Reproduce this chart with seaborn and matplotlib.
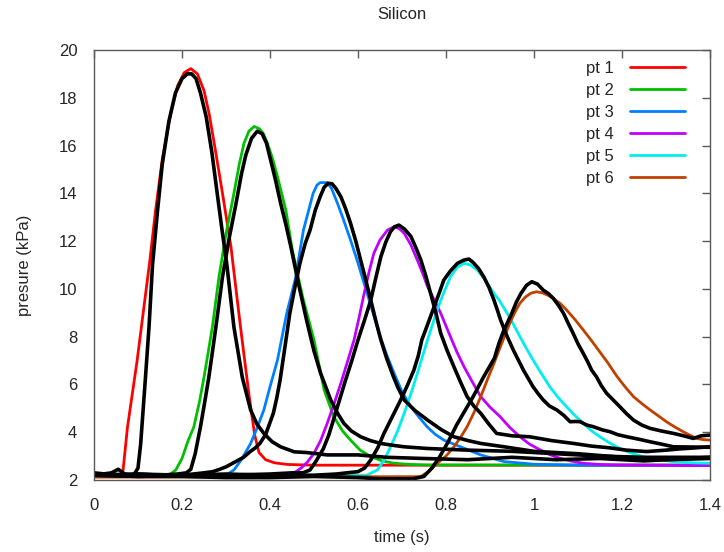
import matplotlib
matplotlib.use("Agg")
import matplotlib.pyplot as plt
import seaborn as sns

# ---------------- data ----------------
labels = ["pt 1", "pt 2", "pt 3", "pt 4", "pt 5", "pt 6"]
colors = ["#ff0000", "#00c000", "#0080ff", "#c000ff", "#00eeee", "#c04000"]

# model curves (coloured)
m1_t = [0.0, 0.06, 0.066, 0.076, 0.098, 0.127, 0.140, 0.155, 0.175, 0.19, 0.205, 0.22, 0.235, 0.25, 0.262, 0.275, 0.292, 0.311, 0.333, 0.352, 0.365, 0.375, 0.39, 0.41, 0.44, 0.5, 1.4]
m1_p = [2.2, 2.2, 2.4, 4.2, 7.0, 11.2, 13.3, 15.4, 17.4, 18.5, 19.05, 19.22, 19.0, 18.3, 17.3, 15.9, 14.0, 11.8, 8.4, 5.6, 3.9, 3.15, 2.85, 2.72, 2.65, 2.62, 2.62]

m2_t = [0.0, 0.17, 0.186, 0.2, 0.213, 0.227, 0.24, 0.25, 0.26, 0.269, 0.284, 0.3, 0.318, 0.33, 0.341, 0.352, 0.364, 0.376, 0.385, 0.394, 0.405, 0.417, 0.436, 0.451, 0.475, 0.5, 0.523, 0.545, 0.565, 0.583, 0.605, 0.629, 0.655, 0.682, 0.72, 0.757, 1.4]
m2_p = [2.2, 2.2, 2.42, 2.9, 3.6, 4.23, 5.3, 6.3, 7.4, 8.4, 10.5, 12.3, 14.0, 15.2, 16.1, 16.6, 16.8, 16.7, 16.5, 16.1, 15.5, 14.7, 13.3, 11.6, 9.6, 7.86, 5.77, 4.65, 4.05, 3.67, 3.25, 2.98, 2.8, 2.7, 2.65, 2.63, 2.62]

m3_t = [0.0, 0.30, 0.318, 0.335, 0.356, 0.37, 0.386, 0.4, 0.417, 0.438, 0.457, 0.476, 0.498, 0.507, 0.514, 0.53, 0.54, 0.553, 0.567, 0.582, 0.598, 0.621, 0.648, 0.665, 0.682, 0.7, 0.72, 0.74, 0.757, 0.775, 0.795, 0.833, 0.879, 0.932, 1.0, 1.1, 1.4]
m3_p = [2.2, 2.2, 2.42, 2.85, 3.53, 4.15, 4.93, 5.9, 7.02, 8.98, 10.37, 12.46, 14.0, 14.35, 14.45, 14.45, 14.2, 13.6, 12.9, 12.1, 11.2, 9.8, 8.14, 7.25, 6.47, 5.7, 5.07, 4.6, 4.23, 3.92, 3.67, 3.39, 3.05, 2.77, 2.66, 2.62, 2.62]

m4_t = [0.0, 0.42, 0.438, 0.455, 0.47, 0.485, 0.5, 0.515, 0.53, 0.545, 0.561, 0.576, 0.591, 0.603, 0.614, 0.625, 0.636, 0.65, 0.667, 0.682, 0.694, 0.705, 0.72, 0.735, 0.747, 0.758, 0.773, 0.788, 0.81, 0.825, 0.841, 0.86, 0.879, 0.9, 0.923, 0.945, 0.968, 0.99, 1.014, 1.035, 1.059, 1.085, 1.112, 1.15, 1.188, 1.4]
m4_p = [2.2, 2.2, 2.21, 2.3, 2.49, 2.75, 3.12, 3.65, 4.37, 5.15, 6.05, 6.95, 7.86, 8.85, 9.81, 10.7, 11.49, 12.05, 12.46, 12.6, 12.52, 12.33, 11.85, 11.2, 10.65, 10.1, 9.55, 8.98, 8.0, 7.35, 6.74, 6.1, 5.49, 5.05, 4.65, 4.2, 3.81, 3.5, 3.26, 3.07, 2.91, 2.79, 2.7, 2.65, 2.63, 2.6]

m5_t = [0.0, 0.62, 0.644, 0.66, 0.674, 0.69, 0.705, 0.72, 0.735, 0.747, 0.758, 0.77, 0.78, 0.795, 0.81, 0.825, 0.841, 0.856, 0.871, 0.89, 0.909, 0.92, 0.945, 0.968, 0.983, 0.998, 1.017, 1.036, 1.055, 1.074, 1.093, 1.112, 1.13, 1.15, 1.172, 1.195, 1.22, 1.248, 1.28, 1.317, 1.36, 1.4]
m5_p = [2.2, 2.2, 2.42, 2.85, 3.39, 4.05, 4.79, 5.6, 6.47, 7.2, 7.86, 8.55, 9.12, 9.85, 10.5, 10.9, 11.07, 11.0, 10.79, 10.35, 9.81, 9.55, 8.8, 8.0, 7.5, 7.02, 6.45, 5.9, 5.45, 5.07, 4.7, 4.37, 4.07, 3.81, 3.55, 3.32, 3.13, 2.98, 2.86, 2.77, 2.72, 2.7]

m6_t = [0.0, 0.742, 0.76, 0.78, 0.8, 0.818, 0.833, 0.848, 0.863, 0.879, 0.894, 0.909, 0.923, 0.945, 0.956, 0.968, 0.98, 0.993, 1.006, 1.02, 1.032, 1.044, 1.06, 1.074, 1.093, 1.112, 1.13, 1.15, 1.168, 1.188, 1.207, 1.226, 1.245, 1.264, 1.283, 1.301, 1.32, 1.339, 1.355, 1.37, 1.385, 1.4]
m6_p = [2.12, 2.14, 2.35, 2.7, 3.0, 3.39, 3.78, 4.23, 4.8, 5.49, 6.2, 6.88, 7.55, 8.56, 9.0, 9.4, 9.65, 9.82, 9.88, 9.83, 9.73, 9.6, 9.38, 9.12, 8.72, 8.28, 7.85, 7.35, 6.9, 6.35, 5.9, 5.49, 5.2, 4.93, 4.68, 4.44, 4.22, 4.02, 3.87, 3.74, 3.69, 3.67]

# measured curves (black)
d1_t = [0.0, 0.02, 0.04, 0.055, 0.07, 0.09, 0.1, 0.106, 0.117, 0.125, 0.133, 0.144, 0.155, 0.17, 0.185, 0.2, 0.212, 0.222, 0.232, 0.242, 0.255, 0.268, 0.28, 0.29, 0.302, 0.318, 0.337, 0.356, 0.37, 0.386, 0.405, 0.424, 0.455, 0.483, 0.53, 0.6, 0.665, 0.75, 0.85, 0.95, 1.05, 1.15, 1.25, 1.35, 1.4]
d1_p = [2.2, 2.25, 2.3, 2.45, 2.25, 2.2, 2.5, 3.5, 6.3, 8.4, 11.0, 13.2, 15.2, 17.0, 18.2, 18.8, 19.0, 19.0, 18.8, 18.2, 17.2, 15.7, 14.0, 12.6, 11.0, 8.4, 6.3, 4.93, 4.35, 3.95, 3.6, 3.39, 3.18, 3.15, 3.05, 3.05, 2.95, 2.9, 2.85, 2.95, 2.85, 2.9, 2.8, 2.9, 2.95]

d2_t = [0.0, 0.05, 0.1, 0.15, 0.19, 0.21, 0.22, 0.23, 0.242, 0.252, 0.261, 0.277, 0.292, 0.308, 0.322, 0.335, 0.345, 0.358, 0.371, 0.382, 0.392, 0.4, 0.412, 0.424, 0.436, 0.447, 0.465, 0.483, 0.5, 0.515, 0.538, 0.555, 0.568, 0.585, 0.606, 0.628, 0.652, 0.68, 0.705, 0.757, 0.85, 0.95, 1.05, 1.15, 1.25, 1.4]
d2_p = [2.3, 2.2, 2.25, 2.2, 2.25, 2.3, 2.45, 3.1, 4.23, 5.3, 6.3, 8.4, 10.5, 12.2, 13.5, 14.8, 15.6, 16.3, 16.6, 16.5, 16.1, 15.5, 14.6, 13.6, 12.7, 11.8, 10.2, 8.7, 7.4, 6.47, 5.35, 4.75, 4.37, 4.05, 3.81, 3.65, 3.53, 3.45, 3.39, 3.32, 3.25, 3.2, 3.1, 3.0, 2.95, 2.95]

d3_t = [0.0, 0.1, 0.2, 0.25, 0.27, 0.286, 0.3, 0.32, 0.34, 0.355, 0.367, 0.377, 0.39, 0.4075, 0.415, 0.423, 0.435, 0.445, 0.457, 0.468, 0.48, 0.491, 0.503, 0.514, 0.523, 0.532, 0.541, 0.55, 0.561, 0.572, 0.583, 0.595, 0.606, 0.618, 0.629, 0.64, 0.652, 0.665, 0.68, 0.69, 0.705, 0.73, 0.758, 0.79, 0.818, 0.85, 0.879, 0.932, 1.0, 1.1, 1.2, 1.3, 1.4]
d3_p = [2.2, 2.15, 2.2, 2.3, 2.35, 2.45, 2.55, 2.75, 2.95, 3.19, 3.35, 3.53, 3.9, 4.79, 5.4, 6.19, 7.7, 8.98, 10.1, 11.07, 11.9, 12.46, 13.3, 13.86, 14.25, 14.42, 14.4, 14.2, 13.86, 13.35, 12.75, 12.0, 11.2, 10.35, 9.53, 8.7, 7.86, 7.1, 6.35, 5.9, 5.35, 4.9, 4.51, 4.1, 3.81, 3.65, 3.53, 3.39, 3.2, 3.1, 2.95, 2.85, 2.9]

d4_t = [0.0, 0.1, 0.2, 0.3, 0.4, 0.45, 0.475, 0.491, 0.505, 0.521, 0.533, 0.544, 0.558, 0.572, 0.586, 0.6, 0.615, 0.629, 0.641, 0.652, 0.663, 0.674, 0.683, 0.693, 0.706, 0.72, 0.731, 0.743, 0.754, 0.765, 0.777, 0.788, 0.803, 0.818, 0.833, 0.848, 0.863, 0.879, 0.897, 0.915, 0.95, 0.99, 1.04, 1.09, 1.13, 1.17, 1.21, 1.256, 1.3, 1.33, 1.37, 1.4]
d4_p = [2.2, 2.25, 2.2, 2.2, 2.25, 2.3, 2.3, 2.42, 2.8, 3.3, 3.85, 4.5, 5.35, 6.2, 7.0, 7.86, 8.7, 9.53, 10.5, 11.35, 11.95, 12.4, 12.6, 12.67, 12.5, 12.2, 11.75, 11.2, 10.55, 9.81, 9.0, 8.14, 7.4, 6.74, 6.1, 5.49, 5.1, 4.79, 4.35, 3.95, 3.85, 3.81, 3.65, 3.53, 3.42, 3.35, 3.25, 3.19, 3.25, 3.3, 3.35, 3.39]

d5_t = [0.0, 0.1, 0.2, 0.3, 0.4, 0.5, 0.55, 0.6, 0.615, 0.629, 0.645, 0.659, 0.678, 0.697, 0.712, 0.727, 0.737, 0.745, 0.76, 0.773, 0.785, 0.795, 0.81, 0.826, 0.84, 0.852, 0.862, 0.874, 0.886, 0.898, 0.909, 0.917, 0.924, 0.938, 0.953, 0.965, 0.976, 0.987, 0.998, 1.01, 1.021, 1.035, 1.052, 1.068, 1.082, 1.095, 1.105, 1.12, 1.135, 1.155, 1.173, 1.19, 1.211, 1.24, 1.264, 1.29, 1.317, 1.36, 1.4]
d5_p = [2.25, 2.2, 2.2, 2.25, 2.2, 2.2, 2.25, 2.35, 2.5, 2.84, 3.35, 3.95, 4.65, 5.35, 5.95, 6.6, 7.2, 7.86, 8.6, 9.25, 9.85, 10.37, 10.75, 11.07, 11.2, 11.25, 11.1, 10.85, 10.5, 10.05, 9.53, 9.1, 8.7, 8.05, 7.44, 7.0, 6.6, 6.25, 5.9, 5.6, 5.35, 5.1, 4.93, 4.7, 4.44, 4.45, 4.44, 4.3, 4.23, 4.1, 4.02, 3.9, 3.81, 3.7, 3.6, 3.5, 3.39, 3.38, 3.37]

d6_t = [0.0, 0.1, 0.2, 0.3, 0.4, 0.5, 0.6, 0.65, 0.7, 0.725, 0.75, 0.768, 0.786, 0.805, 0.824, 0.843, 0.862, 0.885, 0.91, 0.92, 0.93, 0.94, 0.95, 0.96, 0.97, 0.983, 0.995, 1.008, 1.021, 1.033, 1.044, 1.056, 1.067, 1.078, 1.089, 1.1, 1.112, 1.122, 1.131, 1.142, 1.153, 1.165, 1.18, 1.195, 1.21, 1.226, 1.245, 1.264, 1.29, 1.317, 1.34, 1.362, 1.38, 1.4]
d6_p = [2.2, 2.15, 2.15, 2.1, 2.1, 2.15, 2.1, 2.05, 2.05, 2.05, 2.15, 2.5, 2.98, 3.6, 4.3, 4.9, 5.5, 6.3, 7.1, 7.7, 8.2, 8.6, 9.0, 9.45, 9.8, 10.15, 10.3, 10.2, 9.95, 9.8, 9.6, 9.3, 8.98, 8.55, 8.14, 7.7, 7.3, 6.95, 6.6, 6.32, 5.95, 5.63, 5.35, 5.07, 4.78, 4.51, 4.3, 4.16, 4.05, 3.95, 3.85, 3.74, 3.85, 3.88]

x_ticks = [0, 0.2, 0.4, 0.6, 0.8, 1.0, 1.2, 1.4]
x_tick_labels = ["0", "0.2", "0.4", "0.6", "0.8", "1", "1.2", "1.4"]
y_ticks = [2, 4, 6, 8, 10, 12, 14, 16, 18, 20]

# ---------------- plotting ----------------
sns.set_theme(style="white")
plt.rcParams["font.family"] = ["Liberation Sans", "DejaVu Sans"]
TXT = "#262626"

fig = plt.figure(figsize=(7.24, 5.52), dpi=100)
ax = fig.add_axes([94 / 724, 1 - 480 / 552, 616 / 724, 430 / 552])

models = [(m1_t, m1_p), (m2_t, m2_p), (m3_t, m3_p), (m4_t, m4_p), (m5_t, m5_p), (m6_t, m6_p)]
data = [(d1_t, d1_p), (d2_t, d2_p), (d3_t, d3_p), (d4_t, d4_p), (d5_t, d5_p), (d6_t, d6_p)]

handles = []
for (t, p), c in zip(models, colors):
    sns.lineplot(x=t, y=p, color=c, linewidth=2.0, ax=ax, estimator=None, sort=False, legend=False)
    ln = ax.lines[-1]
    ln.set_solid_joinstyle("round")
    handles.append(ln)
for t, p in data:
    sns.lineplot(x=t, y=p, color="black", linewidth=2.6, ax=ax, estimator=None, sort=False, legend=False)
    ax.lines[-1].set_solid_joinstyle("round")

ax.set_xlim(0, 1.4)
ax.set_ylim(2, 20)
ax.set_xticks(x_ticks)
ax.set_xticklabels(x_tick_labels)
ax.set_yticks(y_ticks)
ax.set_xlabel("time (s)", fontsize=12, color=TXT, labelpad=12)
ax.set_ylabel("presure (kPa)", fontsize=12, color=TXT, labelpad=19)
ax.set_title("Silicon", fontsize=12, color=TXT, pad=22)

for s in ax.spines.values():
    s.set_color("#5a5a5a")
    s.set_linewidth(1.0)
ax.tick_params(axis="both", direction="in", length=6, width=1.0, color="#5a5a5a",
               top=True, right=True, labelsize=12, labelcolor=TXT)
ax.tick_params(axis="x", pad=13)
ax.tick_params(axis="y", pad=12)

leg = ax.legend(handles, labels, loc="upper right", bbox_to_anchor=(0.971, 0.99),
                frameon=False, markerfirst=False, fontsize=12, handlelength=3.3,
                handletextpad=1.0, labelspacing=0.42, borderaxespad=0.0)
for txt in leg.get_texts():
    txt.set_color(TXT)

fig.savefig("out.png", dpi=100)
